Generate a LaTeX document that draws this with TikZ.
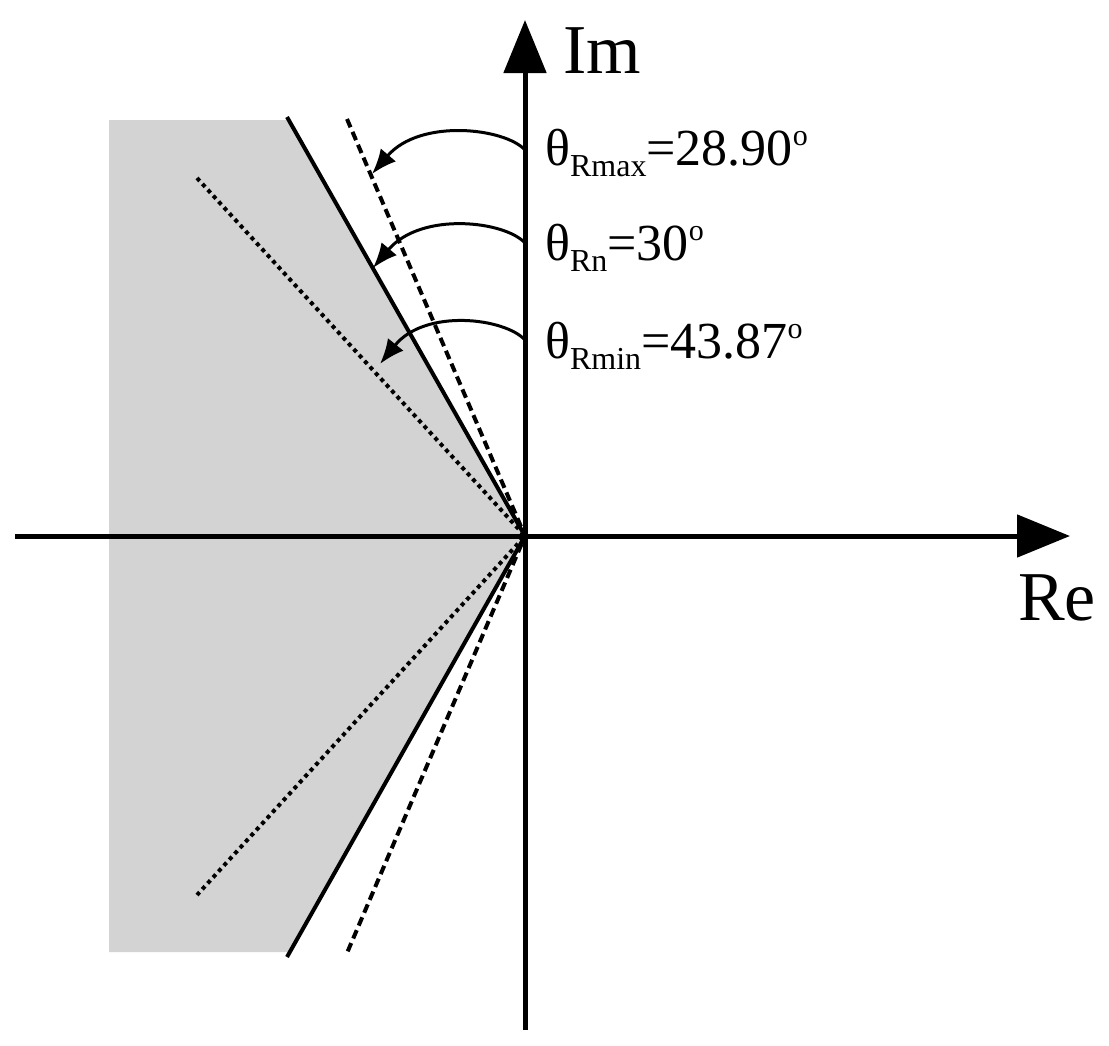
\documentclass[tikz,border=0pt]{standalone}
\usepackage{fontspec}
\setmainfont{Liberation Serif}
\usetikzlibrary{arrows.meta}
\tikzset{
  axis/.style={line width=5pt,-{Triangle[length=53pt,width=42pt]}},
  solidline/.style={line width=4pt},
  dashline/.style={line width=4pt,dash pattern=on 9pt off 5pt},
  dotline/.style={line width=4pt,dash pattern=on 4pt off 4pt},
  anglearrow/.style={line width=3pt,-{Latex[length=25pt,width=20pt]}},
  biglabel/.style={inner sep=0pt,anchor=base west,font=\fontsize{70}{80}\selectfont},
  anglelabel/.style={inner sep=0pt,anchor=base west,font=\fontsize{52}{60}\selectfont},
}
\newcommand{\mysub}[1]{\raisebox{-11pt}{\fontsize{32}{34}\selectfont #1}}
\newcommand{\mydeg}{\raisebox{20pt}{\fontsize{30}{32}\selectfont o}}
\begin{document}
\begin{tikzpicture}[x=1pt,y=-1pt]
\useasboundingbox (0,0) rectangle (1109,1045);
% key points
\coordinate (O) at (525,536);
\coordinate (sTop) at (287,117);
\coordinate (sBot) at (287,957);
\coordinate (dTop) at (347,119);
\coordinate (dBot) at (347,953);
\coordinate (pTop) at (197,178);
\coordinate (pBot) at (197,895);
% shaded region
\fill[fill={rgb,255:red,211;green,211;blue,211}] (109,120) -- (289,120) -- (O) -- (289,952) -- (109,952) -- cycle;
% boundary lines
\draw[dotline] (pTop) -- (O) -- (pBot);
\draw[solidline] (sTop) -- (O) -- (sBot);
\draw[dashline] (dTop) -- (O) -- (dBot);
% axes
\coordinate (xL) at (15,536);
\coordinate (xR) at (1070,536);
\coordinate (yB) at (525,1030);
\coordinate (yT) at (525,20);
\draw[axis] (xL) -- (xR);
\draw[axis] (yB) -- (yT);
\node[biglabel] (im) at (563,73) {Im};
\node[biglabel] (re) at (1018,620) {Re};
% angle arrows
\coordinate (a1s) at (525,150);
\coordinate (a1e) at (372,174);
\coordinate (a2s) at (525,243);
\coordinate (a2e) at (373,268);
\coordinate (a3s) at (525,340);
\coordinate (a3e) at (380,364);
\draw[anglearrow] (a1s) .. controls (505,128) and (420,118) .. (a1e);
\draw[anglearrow] (a2s) .. controls (505,221) and (421,211) .. (a2e);
\draw[anglearrow] (a3s) .. controls (505,318) and (425,308) .. (a3e);
% labels
\node[anglelabel] (l1) at (545,165) {θ\mysub{Rmax}=28.90\mydeg};
\node[anglelabel] (l2) at (545,260) {θ\mysub{Rn}=30\mydeg};
\node[anglelabel] (l3) at (545,358) {θ\mysub{Rmin}=43.87\mydeg};
\end{tikzpicture}
\end{document}
